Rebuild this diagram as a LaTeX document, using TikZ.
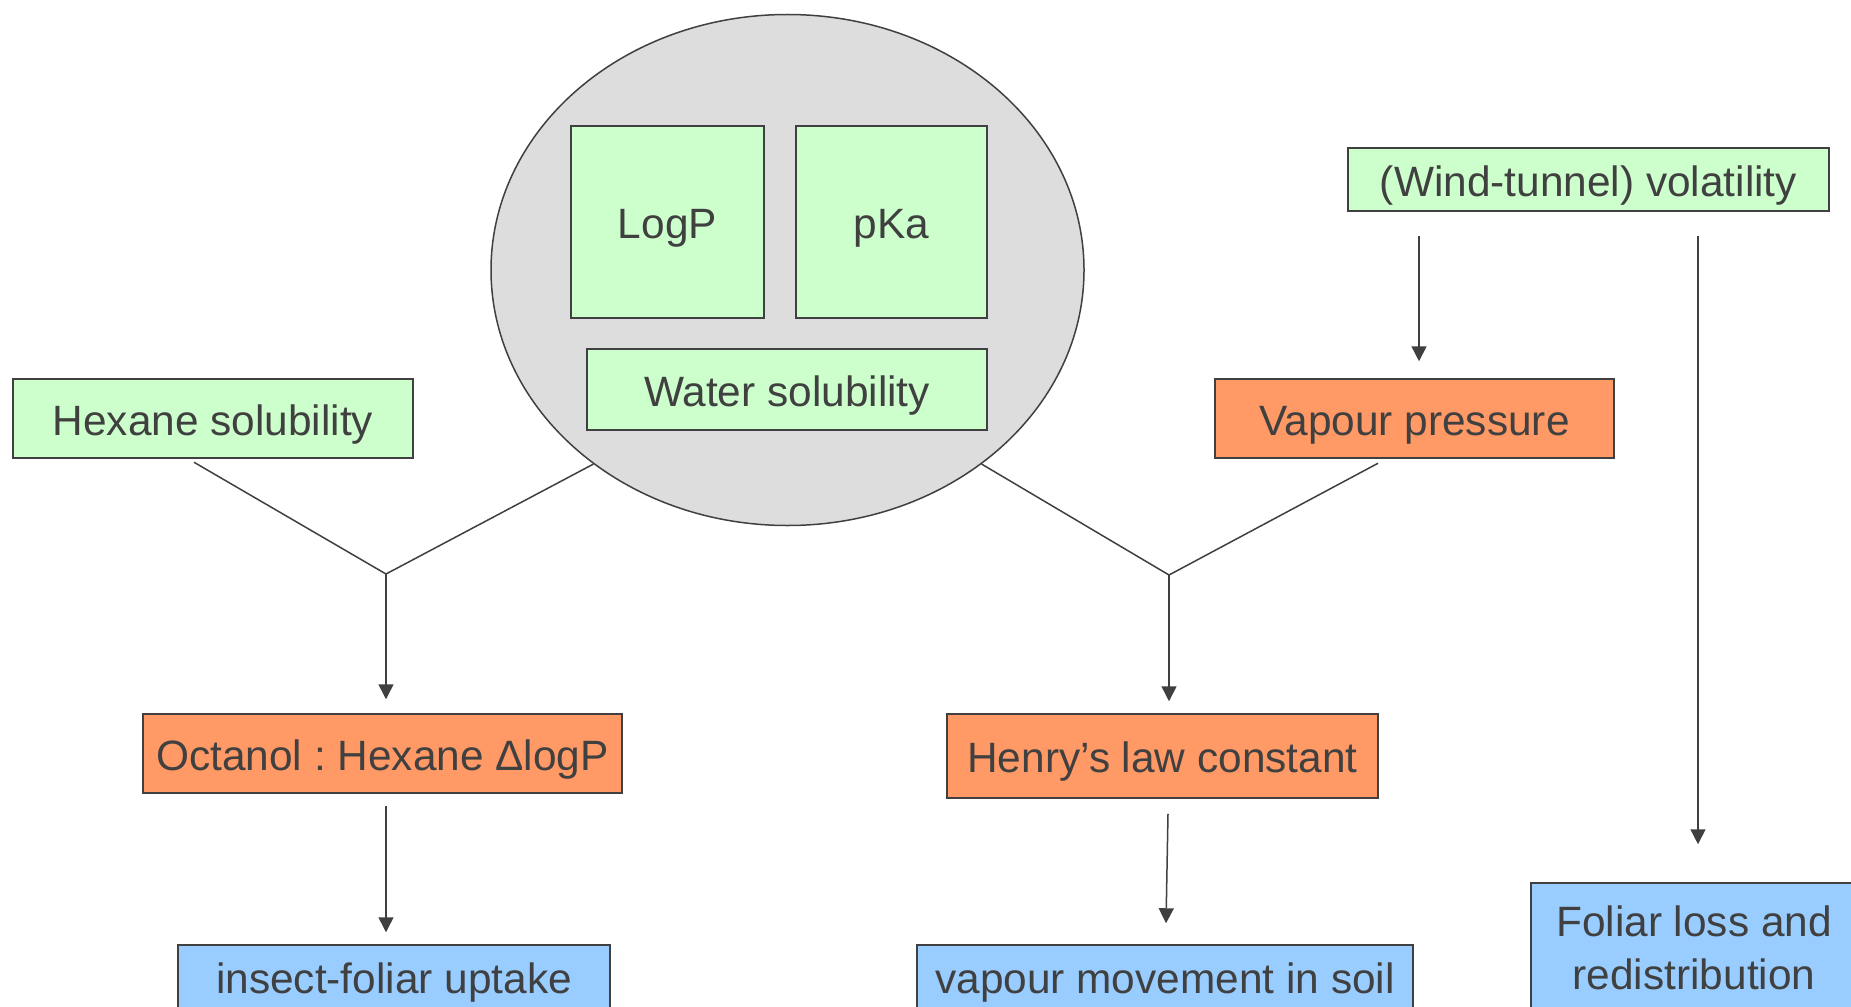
\documentclass[tikz,border=0pt]{standalone}
\usepackage{fontspec}
\setmainfont{Liberation Sans}
\usetikzlibrary{arrows.meta,calc,shapes.geometric}
\definecolor{boxgreen}{HTML}{CCFFCC}
\definecolor{boxorange}{HTML}{FF9966}
\definecolor{boxblue}{HTML}{99CCFF}
\definecolor{ellgray}{HTML}{DDDDDD}
\definecolor{ink}{HTML}{404040}
\frenchspacing
\tikzset{
  boxbase/.style={draw=ink, line width=0.75pt, rectangle, inner sep=0pt, text=ink,
    font=\fontsize{21.2}{26.5}\selectfont\frenchspacing, align=center},
  box/.style={boxbase, text height=21.3pt, text depth=4.4pt},
  gbox/.style={box, fill=boxgreen},
  obox/.style={box, fill=boxorange},
  bbox/.style={box, fill=boxblue},
  conn/.style={draw=ink, line width=0.75pt},
  arr/.style={conn, -{Triangle[width=7.5pt,length=7.5pt]}}
}
\begin{document}
\begin{tikzpicture}[x=0.5pt,y=-0.5pt]
\clip (0,0) rectangle (1851,1006);
\fill[white] (0,0) rectangle (1851,1006);

% ellipse group
\node[ellipse, draw=ink, line width=0.75pt, fill=ellgray, minimum width=296.5pt,
      minimum height=255.5pt, inner sep=0pt] (ell) at (787.5,270) {};
\node[gbox, minimum width=96.5pt, minimum height=96pt] (logp) at (667.5,222) {LogP};
\node[gbox, minimum width=95.5pt, minimum height=96pt] (pka) at (891.5,222) {pKa};
\node[gbox, minimum width=200pt, minimum height=40.5pt] (water) at (787,389.5) {Water solubility};

% other boxes
\node[gbox, minimum width=200pt, minimum height=39.5pt] (hex) at (213,418.5) {Hexane solubility};
\node[obox, minimum width=199.5pt, minimum height=39.5pt] (vap) at (1414.5,418.5) {Vapour pressure};
\node[gbox, minimum width=240.5pt, minimum height=31.5pt] (wind) at (1588.5,179.5) {(Wind-tunnel) volatility};
\node[obox, minimum width=239.5pt, minimum height=39.5pt] (oct) at (382.5,753.5) {Octanol : Hexane ΔlogP};
\node[obox, minimum width=215.5pt, minimum height=42pt] (henry) at (1162.5,756) {Henry’s law constant};
\node[bbox, minimum width=216pt, minimum height=32pt] (insect) at (394,977) {insect-foliar uptake};
\node[bbox, minimum width=248pt, minimum height=32pt] (vmov) at (1165,977) {vapour movement in soil};
\node[boxbase, fill=boxblue, minimum width=163pt, minimum height=64.5pt] (fol) at (1694,947.5) {Foliar loss and\\redistribution};

% junctions
\coordinate (jl) at (386,574);
\coordinate (jr) at (1169,575);

% left merge
\draw[conn] ($(hex.south)+(-19,3.5)$) -- (jl);
\draw[conn] (ell.225) -- (jl);
\draw[arr] (jl) -- ($(oct.north)+(3.5,-14)$);
\draw[arr] ($(oct.south)+(3.5,12)$) -- ($(insect.north)+(-8,-12)$);

% right merge
\draw[conn] ($(vap.south)+(-36.5,4.5)$) -- (jr);
\draw[conn] (ell.-45) -- (jr);
\draw[arr] (jr) -- ($(henry.north)+(6.5,-12)$);
\draw[arr] ($(henry.south)+(5.5,15)$) -- ($(vmov.north)+(1,-21)$);

% volatility
\draw[arr] ($(wind.south)+(-169.5,24)$) -- ($(vap.north)+(4.5,-17)$);
\draw[arr] ($(wind.south)+(109.5,24)$) -- ($(fol.north)+(4,-38)$);
\end{tikzpicture}
\end{document}
